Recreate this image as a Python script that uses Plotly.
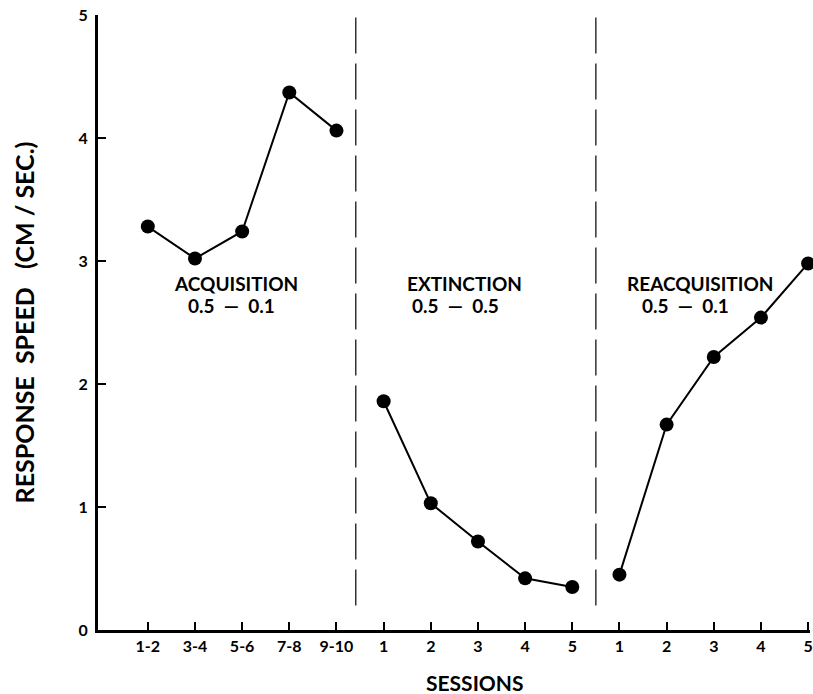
import plotly.graph_objects as go

# ---- data ----
tick_labels = ["1-2", "3-4", "5-6", "7-8", "9-10",
               "1", "2", "3", "4", "5",
               "1", "2", "3", "4", "5"]
acq_pos = [0, 1, 2, 3, 4]
ext_pos = [5, 6, 7, 8, 9]
reacq_pos = [10, 11, 12, 13, 14]
acquisition = [3.28, 3.02, 3.24, 4.37, 4.06]
extinction = [1.86, 1.03, 0.72, 0.42, 0.35]
reacquisition = [0.45, 1.67, 2.22, 2.54, 2.98]
phase_boundaries = [4.41, 9.5]
phase_names = ["ACQUISITION", "EXTINCTION", "REACQUISITION"]
phase_name_x = [1.86, 6.71, 11.70]
phase_ratios = ["0.5  —  0.1", "0.5  —  0.5", "0.5  —  0.1"]
phase_ratio_x = [1.78, 6.52, 11.40]

FONT = "Lato"
fig = go.Figure()
for xs, ys in [(acq_pos, acquisition), (ext_pos, extinction), (reacq_pos, reacquisition)]:
    fig.add_trace(go.Scatter(
        x=xs, y=ys, mode="lines+markers",
        line=dict(color="black", width=2),
        marker=dict(color="black", size=14),
        showlegend=False, cliponaxis=False,
    ))

for b in phase_boundaries:
    fig.add_shape(type="line", x0=b, x1=b, y0=0.2, y1=5.0, xref="x", yref="y",
                  line=dict(color="black", width=1.2, dash="36px,10px"))

for name, xc in zip(phase_names, phase_name_x):
    fig.add_annotation(x=xc, y=2.82, xref="x", yref="y", text=name, showarrow=False,
                       font=dict(family=FONT, size=19, color="black", weight="bold"),
                       yanchor="middle")
for ratio, xc in zip(phase_ratios, phase_ratio_x):
    fig.add_annotation(x=xc, y=2.64, xref="x", yref="y", text=ratio, showarrow=False,
                       font=dict(family=FONT, size=19, color="black", weight="bold"),
                       yanchor="middle")

fig.add_annotation(x=0.53, y=-0.085, xref="paper", yref="paper", text="SESSIONS",
                   showarrow=False, yanchor="middle",
                   font=dict(family=FONT, size=21, color="black", weight="bold"))

fig.update_layout(
    width=813, height=694,
    margin=dict(l=98, r=0, t=15, b=64),
    plot_bgcolor="white", paper_bgcolor="white",
    font=dict(family=FONT, color="black", weight="bold"),
    xaxis=dict(
        range=[-1.056, 14.04],
        tickmode="array", tickvals=list(range(len(tick_labels))), ticktext=tick_labels,
        ticks="inside", ticklen=8, tickwidth=2, tickcolor="black",
        showline=True, linewidth=3, linecolor="black",
        showgrid=False, zeroline=False,
        ticklabeloverflow="allow",
        tickfont=dict(family=FONT, size=16, color="black", weight="bold"),
    ),
    yaxis=dict(
        range=[0, 5],
        tickvals=[0, 1, 2, 3, 4, 5],
        ticks="inside", ticklen=8, tickwidth=2, tickcolor="black",
        showline=True, linewidth=3, linecolor="black",
        showgrid=False, zeroline=False,
        ticklabelstandoff=4,
        tickfont=dict(family=FONT, size=16, color="black", weight="bold"),
        title=dict(text="RESPONSE  SPEED   (CM / SEC.)", standoff=37,
                   font=dict(family=FONT, size=25, color="black", weight="bold")),
    ),
)

fig.write_html("out.html", config={"displayModeBar": False},
               post_script="document.body.style.margin='0';document.body.style.padding='0';")
